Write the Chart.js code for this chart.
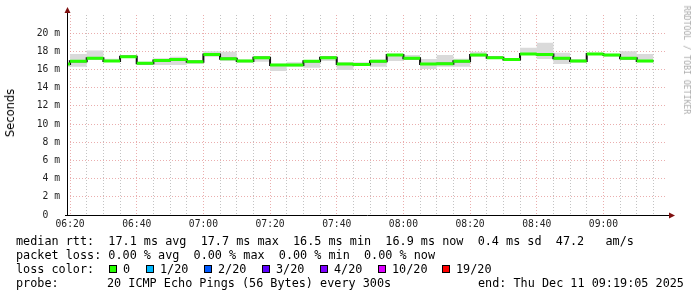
<!DOCTYPE html>
<html>
<head>
<meta charset="utf-8">
<script src="https://cdn.jsdelivr.net/npm/chart.js@4/dist/chart.umd.min.js"></script>
<style>
  body { margin: 0; background: #fff; }
  #wrap { position: relative; width: 697px; height: 297px; overflow: hidden; font-family: "DejaVu Sans Mono", monospace; }
  #wrap canvas { position: absolute; left: 0; top: 0; }
  .txt { position: absolute; white-space: pre; font-size: 11.8px; line-height: 14px; color: #000; }
  .box { position: absolute; width: 6px; height: 6px; border: 1px solid #000; }
  #ytitle { position: absolute; left: 10px; top: 113px; font-family: "DejaVu Sans", sans-serif; font-size: 11.5px; color: #000;
            transform: translate(-50%, -50%) rotate(-90deg); white-space: nowrap; }
  #credit { position: absolute; left: 687px; top: 60px; font-size: 8.2px; color: #aaa;
            transform: translate(-50%, -50%) rotate(90deg); white-space: nowrap; }
</style>
</head>
<body>
<div id="wrap">
  <canvas id="pingChart" width="697" height="297"></canvas>
  <div id="ytitle">Seconds</div>
  <div id="credit">RRDTOOL / TOBI OETIKER</div>
  <div class="txt" style="left:16px; top:234px">median rtt:  17.1 ms avg  17.7 ms max  16.5 ms min  16.9 ms now  0.4 ms sd  47.2   am/s</div>
  <div class="txt" style="left:16px; top:248px">packet loss: 0.00 % avg  0.00 % max  0.00 % min  0.00 % now</div>
  <div class="txt" style="left:16px; top:262px">loss color:</div>
  <div id="lossRow"></div>
  <div class="txt" style="left:16px; top:276px">probe:</div>
  <div class="txt" style="left:107px; top:276px">20 ICMP Echo Pings (56 Bytes) every 300s</div>
  <div class="txt" style="left:478px; top:276px">end: Thu Dec 11 09:19:05 2025</div>
</div>
<script>
// x is minutes since 06:19:05 (graph start), 3 hour window
const xTickLabels = ['06:20', '06:40', '07:00', '07:20', '07:40', '08:00', '08:20', '08:40', '09:00'];
const firstStep = 55 / 60; // 06:20:00

// first value is the partial interval before 06:20, then one value per 5 minutes
const median = [16.6, 16.9, 17.25, 16.95, 17.4, 16.7, 17.0, 17.1, 16.85, 17.65, 17.2, 16.95, 17.3, 16.5, 16.5, 16.9, 17.3, 16.6,
                16.55, 16.9, 17.6, 17.25, 16.6, 16.65, 16.9, 17.6, 17.3, 17.1, 17.7, 17.65, 17.25, 16.95, 17.7, 17.6, 17.25, 16.95];
const smokeMax = [17.05, 17.7, 18.1, 17.2, 17.6, 16.85, 17.25, 17.4, 17.05, 18.0, 17.95, 17.1, 17.45, 16.65, 16.8, 16.95, 17.5, 16.8,
                  16.8, 17.1, 17.75, 17.6, 17.15, 17.6, 17.2, 17.95, 17.45, 17.2, 18.4, 18.95, 17.85, 17.15, 17.85, 17.75, 18.0, 17.7];
const smokeMin = [16.3, 16.3, 17.15, 16.85, 17.3, 16.5, 16.5, 16.5, 16.6, 17.4, 16.95, 16.75, 16.85, 15.85, 16.3, 16.2, 16.95, 15.95,
                  16.4, 16.3, 16.95, 17.05, 16.05, 16.3, 16.3, 17.4, 17.15, 16.95, 17.6, 17.15, 16.6, 16.75, 17.6, 17.4, 17.05, 16.8];

const lossLabels = ['0', '1/20', '2/20', '3/20', '4/20', '10/20', '19/20'];
const lossColors = ['#26ff00', '#00b8ff', '#0059ff', '#5e00ff', '#7e00ff', '#dd00ff', '#ff0000'];
const lossBoxX = [109, 146, 204, 262, 320, 378, 442];

// legend row with coloured boxes
const row = document.getElementById('lossRow');
lossLabels.forEach((lbl, i) => {
    const b = document.createElement('div');
    b.className = 'box';
    b.style.left = lossBoxX[i] + 'px';
    b.style.top = '265px';
    b.style.background = lossColors[i];
    row.appendChild(b);
    const t = document.createElement('div');
    t.className = 'txt';
    t.style.left = (lossBoxX[i] + 14) + 'px';
    t.style.top = '262px';
    t.textContent = lbl;
    row.appendChild(t);
});

// interval i runs from stepStart(i) to stepStart(i + 1)
const stepStart = (i) => (i === 0 ? 0 : firstStep + 5 * (i - 1));

// points at interval ends; stepped 'after' puts each value over the interval before its point
const toSteps = (arr) => {
    const pts = [{ x: 0, y: arr[0] }];
    arr.forEach((v, i) => pts.push({ x: stepStart(i + 1), y: v }));
    return pts;
};

// only the flat parts of the median, the verticals come from the black line below
const toFlats = (arr) => {
    const pts = [];
    arr.forEach((v, i) => {
        pts.push({ x: stepStart(i), y: v });
        pts.push({ x: stepStart(i + 1), y: v });
        pts.push({ x: stepStart(i + 1), y: null });
    });
    return pts;
};

const axisArrows = {
    id: 'axisArrows',
    afterDraw(chart) {
        const { ctx, chartArea } = chart;
        const l = chartArea.left, b = chartArea.bottom;
        ctx.save();
        ctx.strokeStyle = '#000';
        ctx.lineWidth = 1;
        ctx.beginPath();
        ctx.moveTo(l + 0.5, b);
        ctx.lineTo(l + 0.5, 12);
        ctx.moveTo(l - 2, b + 0.5);
        ctx.lineTo(chartArea.right + 3, b + 0.5);
        ctx.stroke();
        ctx.fillStyle = '#7f1010';
        ctx.beginPath();
        ctx.moveTo(l + 0.5, 7);
        ctx.lineTo(l - 2.5, 13);
        ctx.lineTo(l + 3.5, 13);
        ctx.closePath();
        ctx.fill();
        ctx.beginPath();
        ctx.moveTo(chartArea.right + 8, b + 0.5);
        ctx.lineTo(chartArea.right + 2, b - 2.5);
        ctx.lineTo(chartArea.right + 2, b + 3.5);
        ctx.closePath();
        ctx.fill();
        ctx.restore();
    }
};

const tickFont = { family: 'DejaVu Sans Mono', size: 9.7 };
const majorGrid = 'rgba(225,140,140,0.7)';
const minorGrid = 'rgba(175,175,175,0.75)';

new Chart(document.getElementById('pingChart'), {
    type: 'line',
    data: {
        datasets: [
            {
                label: 'median',
                data: toFlats(median),
                borderColor: '#26ff00',
                borderWidth: 3,
                borderCapStyle: 'butt',
                pointRadius: 0,
                spanGaps: false,
                fill: false,
                order: 0
            },
            {
                label: 'median edge',
                data: toSteps(median),
                stepped: 'after',
                borderColor: '#111',
                borderWidth: 2,
                pointRadius: 0,
                fill: false,
                order: 1
            },
            {
                label: 'smoke min',
                data: toSteps(smokeMin),
                stepped: 'after',
                borderWidth: 0,
                borderColor: 'rgba(0,0,0,0)',
                pointRadius: 0,
                fill: false,
                order: 3
            },
            {
                label: 'smoke max',
                data: toSteps(smokeMax),
                stepped: 'after',
                borderWidth: 0,
                borderColor: 'rgba(0,0,0,0)',
                backgroundColor: '#dadada',
                pointRadius: 0,
                fill: 2,
                order: 2
            }
        ]
    },
    options: {
        responsive: false,
        animation: false,
        layout: { padding: { left: 0, top: 15, right: 30, bottom: 0 } },
        plugins: {
            legend: { display: false },
            tooltip: { enabled: false }
        },
        scales: {
            x: {
                type: 'linear',
                min: 0,
                max: 180,
                afterBuildTicks: (scale) => {
                    const ticks = [];
                    for (let k = 0; firstStep + 5 * k <= 180; k++) {
                        ticks.push({ value: firstStep + 5 * k });
                    }
                    scale.ticks = ticks;
                },
                afterFit: (scale) => { scale.height = 82; },
                ticks: {
                    autoSkip: false,
                    maxRotation: 0,
                    padding: 4,
                    color: '#222',
                    font: tickFont,
                    callback: (v, i) => (i % 4 === 0 ? xTickLabels[i / 4] : '')
                },
                grid: {
                    drawTicks: false,
                    color: (c) => (c.index % 4 === 0 ? majorGrid : minorGrid),
                    lineWidth: 1
                },
                border: { display: false, dash: [1, 2] }
            },
            y: {
                min: 0,
                max: 22,
                afterFit: (scale) => { scale.width = 67; },
                ticks: {
                    stepSize: 1,
                    padding: 7,
                    color: '#222',
                    font: tickFont,
                    callback: (v) => {
                        if (v === 0) return '0  ';
                        if (v % 2 === 0 && v < 22) return v + ' m';
                        return '';
                    }
                },
                grid: {
                    drawTicks: false,
                    color: (c) => {
                        const v = c.tick.value;
                        if (v === 0 || v === 22) return 'rgba(0,0,0,0)';
                        return v % 2 === 0 ? majorGrid : minorGrid;
                    },
                    lineWidth: 1
                },
                border: { display: false, dash: [1, 2] }
            }
        }
    },
    plugins: [axisArrows]
});
</script>
</body>
</html>
